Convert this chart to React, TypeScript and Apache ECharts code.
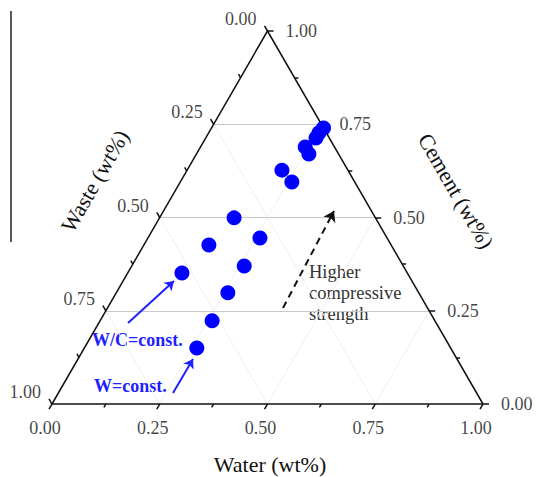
import React, { useEffect, useRef } from "react";
import * as echarts from "echarts";

// Ternary data (mass fractions)
const water = [0.26, 0.256, 0.256, 0.243, 0.261, 0.22, 0.259, 0.173, 0.26, 0.151, 0.261, 0.126, 0.259, 0.26, 0.261];
const waste = [0.0, 0.017, 0.031, 0.068, 0.069, 0.153, 0.146, 0.328, 0.295, 0.423, 0.369, 0.523, 0.443, 0.517, 0.589];
const cement = [0.74, 0.727, 0.713, 0.689, 0.67, 0.627, 0.595, 0.499, 0.445, 0.426, 0.37, 0.351, 0.298, 0.223, 0.15];

const majorTicks = [0, 0.25, 0.5, 0.75, 1];
const minorTicks = [0.125, 0.375, 0.625, 0.875];
const tickLabels = ["0.00", "0.25", "0.50", "0.75", "1.00"];
const gridLevels = [0.25, 0.5, 0.75];

const PW = 431;
const PH = 373;
const FONT = '"Liberation Serif", "Times New Roman", serif';

// ternary (water, cement) -> cartesian unit coords
const tx = (w: number, c: number) => [w + c / 2, c];
const pt = (w: number, s: number, c: number) => tx(w, c);

export default function App() {
  const ref = useRef<HTMLDivElement>(null);
  useEffect(() => {
    if (!ref.current) return;
    const chart = echarts.init(ref.current, null, { renderer: "svg" });

    const edges = [
      [pt(0, 1, 0), pt(1, 0, 0)],
      [pt(1, 0, 0), pt(0, 0, 1)],
      [pt(0, 0, 1), pt(0, 1, 0)],
    ];

    const mainGrid: number[][][] = [];
    const faintGrid: number[][][] = [];
    gridLevels.forEach((v) => {
      mainGrid.push([pt(0, 1 - v, v), pt(1 - v, 0, v)]);
      faintGrid.push([pt(v, 1 - v, 0), pt(v, 0, 1 - v)]);
      faintGrid.push([pt(0, v, 1 - v), pt(1 - v, v, 0)]);
    });

    const ticks: number[][][] = [];
    const addTicks = (vals: number[], L: number) => {
      vals.forEach((v) => {
        const b = pt(v, 1 - v, 0);
        ticks.push([b, [b[0] - (0.5 * L) / PW, b[1] - (0.866 * L) / PH]]);
        const l = pt(0, v, 1 - v);
        ticks.push([l, [l[0] - (0.5 * L) / PW, l[1] + (0.866 * L) / PH]]);
        const r = pt(1 - v, 0, v);
        ticks.push([r, [r[0] + L / PW, r[1]]]);
      });
    };
    addTicks(majorTicks, 6);
    addTicks(minorTicks, 4);

    const bottomLabels = majorTicks.map((v, i) => [...pt(v, 1 - v, 0), tickLabels[i]]);
    const leftLabels = majorTicks.map((v, i) => [...pt(0, v, 1 - v), tickLabels[i]]);
    const rightLabels = majorTicks.map((v, i) => [...pt(1 - v, 0, v), tickLabels[i]]);

    const labelSeries = (data: any[], offset: number[], align: string) => ({
      type: "scatter",
      data,
      symbol: "circle",
      symbolSize: 1,
      silent: true,
      clip: false,
      itemStyle: { color: "transparent" },
      label: {
        show: true,
        position: "inside",
        offset,
        align,
        verticalAlign: "middle",
        formatter: (p: any) => p.value[2],
        color: "#111",
        fontSize: 18,
        fontFamily: FONT,
      },
      z: 5,
    });

    const points = water.map((w, i) => pt(w, waste[i], cement[i]));

    const px = (x: number) => (x - 52) / PW;
    const py = (y: number) => (404 - y) / PH;

    chart.setOption({
      animation: false,
      backgroundColor: "#ffffff",
      grid: { left: 52, top: 31, width: PW, height: PH },
      xAxis: { type: "value", min: 0, max: 1, show: false },
      yAxis: { type: "value", min: 0, max: 1, show: false },
      series: [
        {
          type: "lines",
          coordinateSystem: "cartesian2d",
          clip: false,
          silent: true,
          data: faintGrid.map((c) => ({ coords: c })),
          lineStyle: { color: "#f0f0f0", width: 1, opacity: 1 },
          z: 1,
        },
        {
          type: "lines",
          coordinateSystem: "cartesian2d",
          clip: false,
          silent: true,
          data: mainGrid.map((c) => ({ coords: c })),
          lineStyle: { color: "#c8c8c8", width: 1, opacity: 1 },
          z: 2,
        },
        {
          type: "lines",
          coordinateSystem: "cartesian2d",
          clip: false,
          silent: true,
          data: edges.concat(ticks).map((c) => ({ coords: c })),
          lineStyle: { color: "#111", width: 1.5, opacity: 1 },
          z: 3,
        },
        labelSeries(bottomLabels, [-7, 24], "center"),
        labelSeries(leftLabels, [-11, -12], "right"),
        labelSeries(rightLabels, [18, 0], "left"),
        {
          type: "lines",
          coordinateSystem: "cartesian2d",
          clip: false,
          silent: true,
          symbol: ["none", "arrow"],
          symbolSize: 9,
          data: [
            { coords: [[px(128), py(323)], [px(174), py(281)]] },
            { coords: [[px(173), py(393)], [px(193), py(359)]] },
          ],
          lineStyle: { color: "#1f1fff", width: 2, opacity: 1 },
          z: 6,
        },
        {
          type: "lines",
          coordinateSystem: "cartesian2d",
          clip: false,
          silent: true,
          symbol: ["none", "arrow"],
          symbolSize: 10,
          data: [{ coords: [[px(283), py(308)], [px(334), py(211)]] }],
          lineStyle: { color: "#111", width: 2, type: [7, 5], opacity: 1 },
          z: 6,
        },
        {
          type: "scatter",
          data: points,
          symbol: "circle",
          symbolSize: 15,
          clip: false,
          itemStyle: { color: "#0000ff", opacity: 1 },
          z: 10,
        },
      ],
      graphic: [
        {
          type: "line",
          shape: { x1: 11, y1: 11, x2: 11, y2: 242 },
          style: { stroke: "#222", lineWidth: 1.5 },
        },
        {
          type: "text",
          x: 270,
          y: 464,
          style: { text: "Water (wt%)", font: `22px ${FONT}`, fill: "#111", align: "center", verticalAlign: "middle" },
        },
        {
          type: "text",
          x: 95,
          y: 181,
          rotation: Math.PI / 3,
          style: { text: "Waste (wt%)", font: `22px ${FONT}`, fill: "#111", align: "center", verticalAlign: "middle" },
        },
        {
          type: "text",
          x: 456,
          y: 191,
          rotation: -Math.PI / 3,
          style: { text: "Cement (wt%)", font: `22px ${FONT}`, fill: "#111", align: "center", verticalAlign: "middle" },
        },
        {
          type: "text",
          x: 92,
          y: 340,
          style: { text: "W/C=const.", font: `bold 18px ${FONT}`, fill: "#1f1fff", align: "left", verticalAlign: "middle" },
        },
        {
          type: "text",
          x: 94,
          y: 386,
          style: { text: "W=const.", font: `bold 18px ${FONT}`, fill: "#1f1fff", align: "left", verticalAlign: "middle" },
        },
        {
          type: "text",
          x: 309,
          y: 261,
          style: {
            text: "Higher\ncompressive\nstrength",
            font: `18.5px ${FONT}`,
            fill: "#333",
            align: "left",
            verticalAlign: "top",
            lineHeight: 21,
          },
        },
      ],
    });
    return () => chart.dispose();
  }, []);
  return (
    <div
      ref={ref}
      style={{ position: "fixed", left: 0, top: 0, width: 538, height: 477, background: "#fff" }}
    />
  );
}
